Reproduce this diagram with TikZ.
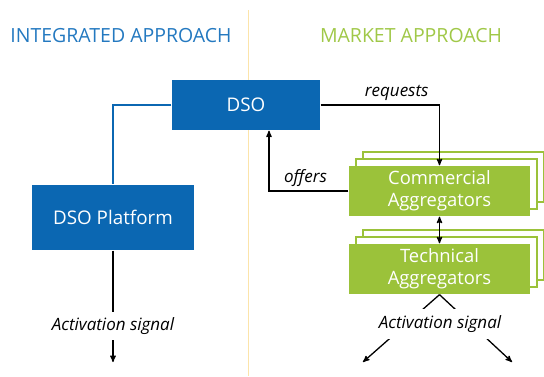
\documentclass[tikz,border=0pt]{standalone}
\usepackage{fontspec}
\setmainfont{Open Sans}
\usetikzlibrary{arrows, shadows}

\definecolor{dsoblue}{RGB}{11,103,178}
\definecolor{titleblue}{RGB}{36,121,192}
\definecolor{aggreen}{RGB}{155,194,58}
\definecolor{titlegreen}{RGB}{160,200,72}
\definecolor{divider}{RGB}{252,228,170}

\tikzset{
  title/.style={font=\fontsize{19.5}{22}\selectfont},
  dsobox/.style={fill=dsoblue, text=white, font=\fontsize{18.8}{22}\selectfont},
  aggbox/.style={fill=aggreen, text=white, align=center, minimum width=181, minimum height=50,
    font=\fontsize{18.4}{22}\selectfont,
    double copy shadow={shadow xshift=7pt, shadow yshift=7pt, fill=white, draw=aggreen, line width=1.2pt}},
  lbl/.style={font=\fontsize{17}{19}\selectfont\itshape, text=black}
}

\begin{document}
\begin{tikzpicture}[x=1pt, y=-1pt, >=stealth', line width=1.3pt]
\useasboundingbox (0,0) rectangle (544,376);

%\draw[help lines] (0,0) grid[step=20] (544,376);

\draw[divider, line width=1pt] (248,10) -- (248,376);

\node[title, text=titleblue] (intg) at (121,36) {INTEGRATED APPROACH};
\node[title, text=titlegreen] (mkt) at (411,36) {MARKET APPROACH};

\node[dsobox, minimum width=148, minimum height=50] (dso) at (246,105) {DSO};
\node[dsobox, minimum width=162, minimum height=65] (plat) at (113,217.5) {DSO Platform};

\node[aggbox] (com) at (439.5,191) {Commercial\\Aggregators};
\node[aggbox] (tec) at (439.5,269) {Technical\\Aggregators};

\draw[dsoblue] (dso.west) -| (plat.north);
\draw[->] (dso.east) -| (com.north) node[lbl, above, pos=0.32] {requests};
\draw[->] (com.west) -| ([xshift=23pt]dso.south) node[lbl, above, pos=0.27] {offers};
\draw[<->] (com.south) -- (tec.north);

% activation signals
\coordinate (pdown) at (113,362);
\draw[->] (plat.south) -- (pdown);
\node[lbl, fill=white, minimum height=28] (pact) at (113,326) {Activation signal};

\coordinate (tleft) at (363,362);
\coordinate (tright) at (512,362);
\draw[->] (tec.south) -- (tleft);
\draw[->] (tec.south) -- (tright);
\node[lbl, fill=white, minimum height=30] (tact) at (440,324) {Activation signal};

\end{tikzpicture}
\end{document}
